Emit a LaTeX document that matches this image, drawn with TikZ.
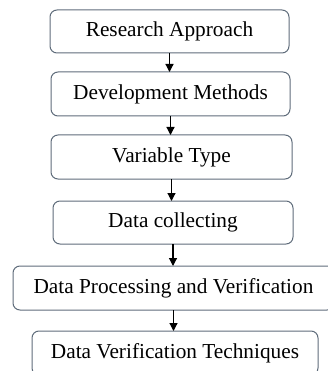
\documentclass[tikz,border=0pt]{standalone}
\usepackage{fontspec}
\setmainfont{Liberation Serif}
\usetikzlibrary{positioning,arrows.meta}
\definecolor{boxline}{HTML}{5F6C7B}
\begin{document}
\begin{tikzpicture}[x=1pt, y=1pt,
      every node/.style = {shape=rectangle, rounded corners=7pt, draw=boxline, line width=1pt,
        inner sep=0pt, outer sep=0pt, minimum height=44pt, align=center,
        font=\fontsize{21.3}{25}\selectfont},
      flow/.style = {draw=black, line width=1.2pt, -{Triangle[width=8pt,length=8pt]}}]
      \useasboundingbox (0,0) rectangle (328,-371);
      \node[minimum width=239pt, minimum height=43pt] (approach) at (169.5,-31.5) {Research Approach};
      \node[minimum width=239pt, below=19pt of approach, xshift=1pt] (methods) {Development Methods};
      \node[minimum width=241pt, below=19pt of methods, xshift=1pt] (vartype) {Variable Type};
      \node[minimum width=240pt, minimum height=43pt, below=22pt of vartype, xshift=1.5pt] (collect) {Data collecting};
      \node[minimum width=321pt, below=22pt of collect, xshift=0.5pt] (process) {Data Processing and Verification};
      \node[minimum width=286pt, below=21pt of process, xshift=1.5pt] (techniques) {Data Verification Techniques};
      \draw[flow] (approach.south) -- (approach.south |- methods.north);
      \draw[flow] (methods.south) -- (methods.south |- vartype.north);
      \draw[flow] (vartype.south) -- (vartype.south |- collect.north);
      \draw[flow] (collect.south) -- (collect.south |- process.north);
      \draw[flow] (process.south) -- (process.south |- techniques.north);
    \end{tikzpicture}
\end{document}
